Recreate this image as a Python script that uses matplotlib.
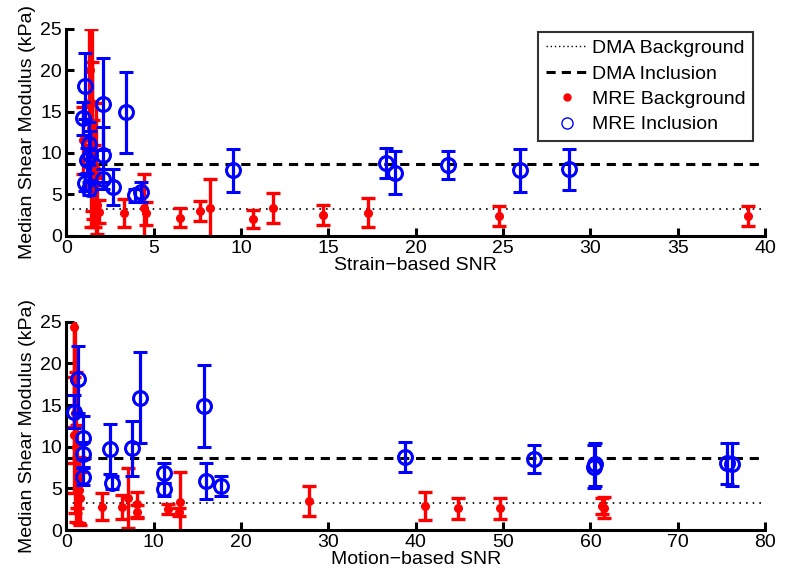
import numpy as np
import matplotlib
matplotlib.use("Agg")
import matplotlib.pyplot as plt
from matplotlib.lines import Line2D

plt.rcParams['font.family'] = ['Liberation Sans', 'DejaVu Sans']

# DMA reference moduli (kPa)
dma_background = 3.2
dma_inclusion = 8.7

# MRE inclusion: median modulus, error and the two SNR measures
incl_mod = [14.2, 18.1, 11.1, 9.1, 6.4, 5.7, 9.7, 15.9, 9.8, 6.9,
            5.9, 14.9, 4.9, 5.3, 7.9, 8.8, 7.6, 8.5, 7.9, 8.0]
incl_err = [2.0, 4.0, 2.6, 1.5, 1.0, 0.8, 3.0, 5.5, 3.3, 1.2,
            2.2, 4.9, 0.8, 1.2, 2.6, 1.8, 2.6, 1.7, 2.6, 2.5]
incl_strain_snr = [0.97, 1.05, 1.28, 1.18, 1.09, 1.28, 1.37, 2.10, 2.13, 2.13,
                   2.70, 3.43, 3.95, 4.29, 9.53, 18.30, 18.84, 21.87, 25.97, 28.80]
incl_motion_snr = [0.92, 1.30, 1.98, 1.91, 1.98, 5.22, 4.96, 8.47, 7.50, 11.2,
                   16.0, 15.8, 11.2, 17.7, 76.2, 38.8, 60.4, 53.6, 60.5, 75.6]

# MRE background vs strain-based SNR
bg_strain_snr = [0.97, 1.30, 1.35, 1.40, 1.45, 1.50, 1.55, 1.60, 1.66, 1.75,
                 1.70, 1.85, 3.28, 4.48, 4.58, 6.52, 7.67, 8.24, 10.7, 11.86,
                 14.69, 17.3, 24.75, 39.0]
bg_strain_mod = [11.5, 16.0, 20.0, 13.0, 12.0, 16.0, 8.0, 6.0, 4.0, 3.7,
                 8.0, 2.9, 2.7, 3.3, 2.7, 2.2, 3.0, 3.3, 2.0, 3.4,
                 2.5, 2.8, 2.4, 2.4]
bg_strain_err = [4.0, 10.0, 9.0, 12.0, 9.0, 10.0, 6.0, 5.0, 3.0, 3.5,
                 8.0, 1.4, 1.7, 4.2, 1.4, 1.2, 1.2, 3.6, 1.1, 1.8,
                 1.25, 1.7, 1.25, 1.25]

# MRE background vs motion-based SNR
bg_motion_snr = [0.84, 0.95, 1.05, 0.84, 1.15, 1.22, 1.41, 1.60, 4.08, 6.37,
                 7.10, 8.16, 8.16, 11.7, 12.97, 12.9, 27.8, 41.1, 44.8, 49.7,
                 61.3, 61.6]
bg_motion_mod = [24.4, 18.0, 14.0, 11.4, 10.0, 7.6, 4.8, 3.8, 2.8, 2.8,
                 3.8, 3.1, 2.2, 2.5, 3.4, 2.2, 3.5, 2.9, 2.6, 2.6,
                 2.9, 2.7]
bg_motion_err = [12.0, 10.0, 12.0, 7.0, 9.0, 5.0, 4.0, 3.2, 1.65, 1.45,
                 3.6, 1.5, 0.8, 0.6, 3.6, 0.5, 1.8, 1.7, 1.25, 1.25,
                 1.0, 1.25]


def draw_panel(ax, bg_x, bg_y, bg_e, in_x, xmax, xstep, xlabel):
    ax.axhline(dma_background, color='black', lw=1.2, ls=(0, (1, 3)), zorder=1)
    ax.axhline(dma_inclusion, color='black', lw=2.2, ls=(0, (3, 2.2)), zorder=1)
    ax.errorbar(bg_x, bg_y, yerr=bg_e, fmt='o', color='red', ms=5.5,
                elinewidth=2.4, capsize=5, capthick=2.4, zorder=2)
    ax.errorbar(in_x, incl_mod, yerr=incl_err, fmt='o', color='blue', mfc='none',
                ms=10, mew=2.2, elinewidth=2.3, capsize=5, capthick=2.3, zorder=3)
    ax.set_xlim(0, xmax)
    ax.set_ylim(0, 25)
    ax.set_xticks(np.arange(0, xmax + 1, xstep))
    ax.set_yticks(np.arange(0, 26, 5))
    ax.set_xlabel(xlabel, fontsize=14, labelpad=0)
    ax.set_ylabel('Median Shear Modulus (kPa)', fontsize=14, labelpad=3)
    for side in ['top', 'right']:
        ax.spines[side].set_visible(False)
    for side in ['left', 'bottom']:
        ax.spines[side].set_linewidth(2.2)
    ax.tick_params(direction='in', length=6, width=2.2, labelsize=14, pad=3)


fig = plt.figure(figsize=(7.88, 5.85), dpi=100)
ax1 = fig.add_axes([0.084, 0.597, 0.887, 0.354])
ax2 = fig.add_axes([0.084, 0.094, 0.887, 0.356])

draw_panel(ax1, bg_strain_snr, bg_strain_mod, bg_strain_err, incl_strain_snr,
           40, 5, 'Strain\u2212based SNR')
draw_panel(ax2, bg_motion_snr, bg_motion_mod, bg_motion_err, incl_motion_snr,
           80, 10, 'Motion\u2212based SNR')

handles = [
    Line2D([], [], color='black', lw=1.0, ls=(0, (1, 2))),
    Line2D([], [], color='black', lw=2.2, ls=(0, (3, 2))),
    Line2D([], [], color='red', marker='o', ls='none', ms=5),
    Line2D([], [], color='blue', marker='o', ls='none', ms=8, mfc='none', mew=1),
]
labels = ['DMA Background', 'DMA Inclusion', 'MRE Background', 'MRE Inclusion']
leg = ax1.legend(handles, labels, loc='upper right', bbox_to_anchor=(0.983, 0.985),
                 borderaxespad=0, fontsize=14, frameon=True, fancybox=False,
                 handlelength=2.1, handletextpad=0.25, borderpad=0.4,
                 labelspacing=0.4)
leg.get_frame().set_edgecolor('black')
leg.get_frame().set_linewidth(1.5)

fig.savefig('out.png', dpi=100)
